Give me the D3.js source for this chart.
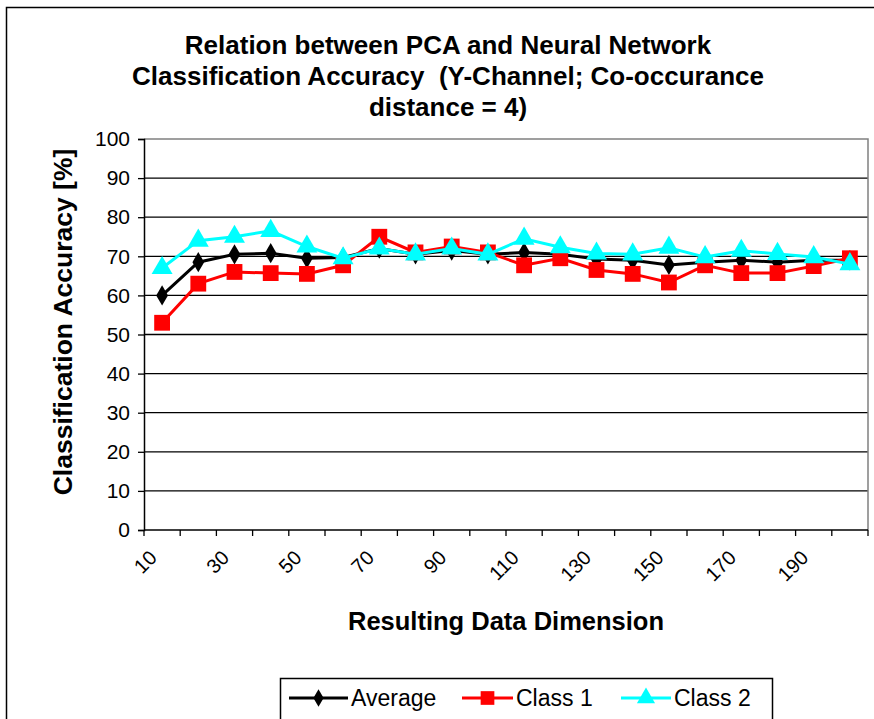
<!DOCTYPE html>
<html>
<head>
<meta charset="utf-8">
<script src="https://cdn.jsdelivr.net/npm/d3@7"></script>
<style>
  html, body { margin: 0; padding: 0; background: #fff; }
  svg { display: block; font-family: "Liberation Sans", Arial, sans-serif; }
  svg text { white-space: pre; }
</style>
</head>
<body>
<svg id="chart" width="874" height="719"></svg>
<script>
const categories = [10, 20, 30, 40, 50, 60, 70, 80, 90, 100, 110, 120, 130, 140, 150, 160, 170, 180, 190, 200];
const averageValues = [60, 68.5, 70.5, 70.8, 69.5, 69.7, 72, 70.5, 71.5, 70.5, 71, 70.5, 69.3, 69, 67.8, 68.5, 69, 68.5, 69, 69];
const class1Values = [53, 63, 66, 65.7, 65.5, 67.7, 75, 71, 72.5, 71, 67.7, 69.5, 66.5, 65.5, 63.3, 67.7, 65.7, 65.7, 67.5, 69.5];
const class2Values = [67, 74, 75, 76.5, 72.5, 69.5, 72, 70.5, 72, 70.5, 74.5, 72.3, 70.7, 70.5, 72.2, 69.8, 71.4, 70.6, 69.8, 68];
const yTicks = [0, 10, 20, 30, 40, 50, 60, 70, 80, 90, 100];
const xLabelCats = [10, 30, 50, 70, 90, 110, 130, 150, 170, 190];
const titleLines = ["Relation between PCA and Neural Network", "Classification Accuracy  (Y-Channel; Co-occurance", "distance = 4)"];
const seriesNames = ["Average", "Class 1", "Class 2"];

const svg = d3.select("#chart");
const pLeft = 144, pRight = 868, pTop = 139, pBottom = 530;

// outer chart border
svg.append("rect").attr("x", 6.5).attr("y", 7.5).attr("width", 900).attr("height", 800)
  .attr("fill", "#fff").attr("stroke", "#000").attr("stroke-width", 1.5);

const x = d3.scaleBand().domain(categories).range([pLeft, pRight]).paddingInner(0).paddingOuter(0);
const y = d3.scaleLinear().domain([0, 100]).range([pBottom, pTop]);
const cx = c => x(c) + x.bandwidth() / 2;

// gridlines
svg.append("g").selectAll("line").data(yTicks.filter(t => t > 0 && t < 100)).join("line")
  .attr("x1", pLeft).attr("x2", pRight).attr("y1", d => y(d)).attr("y2", d => y(d))
  .attr("stroke", "#000").attr("stroke-width", 1.3);

// plot border (gray)
svg.append("path")
  .attr("d", `M${pLeft},${pTop}H${pRight}V${pBottom}`)
  .attr("fill", "none").attr("stroke", "#808080").attr("stroke-width", 1.5);

// y axis
const yAxis = svg.append("g").attr("transform", `translate(${pLeft},0)`)
  .call(d3.axisLeft(y).tickValues(yTicks).tickSize(6).tickPadding(8).tickFormat(d3.format("d")));
yAxis.select(".domain").attr("stroke", "#000").attr("stroke-width", 1.5);
yAxis.selectAll(".tick line").attr("stroke", "#000").attr("stroke-width", 1.3);
yAxis.selectAll("text").attr("font-size", 21).attr("fill", "#000")
  .attr("font-family", "'Liberation Sans', Arial, sans-serif");

// x axis line + tick marks at category boundaries
svg.append("line").attr("x1", pLeft).attr("x2", pRight).attr("y1", pBottom).attr("y2", pBottom)
  .attr("stroke", "#000").attr("stroke-width", 1.5);
svg.append("g").selectAll("line").data(categories.concat(["end"])).join("line")
  .attr("x1", d => d === "end" ? pRight : x(d)).attr("x2", d => d === "end" ? pRight : x(d))
  .attr("y1", pBottom).attr("y2", pBottom + 6)
  .attr("stroke", "#000").attr("stroke-width", 1.3);

// x labels (rotated)
svg.append("g").selectAll("text").data(xLabelCats).join("text")
  .attr("transform", d => `translate(${cx(d) - 9},${pBottom + 24}) rotate(-45)`)
  .attr("text-anchor", "end").attr("font-size", 20).attr("fill", "#000")
  .attr("dy", "0.35em")
  .text(d => d);

// title
svg.append("g").selectAll("text").data(titleLines).join("text")
  .attr("x", 448).attr("y", (d, i) => 54 + i * 31)
  .attr("text-anchor", "middle").attr("font-size", 26).attr("font-weight", "bold")
  .attr("fill", "#000").text(d => d);

// axis titles
svg.append("text").attr("x", 506).attr("y", 630).attr("text-anchor", "middle")
  .attr("font-size", 25.5).attr("font-weight", "bold").text("Resulting Data Dimension");
svg.append("text").attr("transform", `translate(72,322) rotate(-90)`).attr("text-anchor", "middle")
  .attr("font-size", 26.5).attr("font-weight", "bold").text("Classification Accuracy [%]");

// series
const series = [
  { name: seriesNames[0], values: averageValues, color: "#000000", symbol: d3.symbolDiamond, size: 120 },
  { name: seriesNames[1], values: class1Values, color: "#ff0000", symbol: d3.symbolSquare, size: 250 },
  { name: seriesNames[2], values: class2Values, color: "#00ffff", symbol: d3.symbolTriangle, size: 190 }
];
const line = d3.line().x((d, i) => cx(categories[i])).y(d => y(d));

series.forEach(s => {
  const g = svg.append("g");
  g.append("path").attr("d", line(s.values)).attr("fill", "none")
    .attr("stroke", s.color).attr("stroke-width", 3);
  g.selectAll("path.m").data(s.values).join("path").attr("class", "m")
    .attr("transform", (d, i) => `translate(${cx(categories[i])},${y(d)})`)
    .attr("d", d3.symbol().type(s.symbol).size(s.size))
    .attr("fill", s.color);
});

// legend
const legend = svg.append("g");
legend.append("rect").attr("x", 280.5).attr("y", 678.5).attr("width", 492).attr("height", 60)
  .attr("fill", "#fff").attr("stroke", "#000").attr("stroke-width", 1.5);
const legendItems = [
  { s: series[0], x1: 289, x2: 348, tx: 351 },
  { s: series[1], x1: 462, x2: 513, tx: 516 },
  { s: series[2], x1: 621, x2: 671, tx: 674 }
];
const ly = 698;
legendItems.forEach(it => {
  legend.append("line").attr("x1", it.x1).attr("x2", it.x2).attr("y1", ly).attr("y2", ly)
    .attr("stroke", it.s.color).attr("stroke-width", 3);
  legend.append("path").attr("transform", `translate(${(it.x1 + it.x2) / 2},${ly})`)
    .attr("d", d3.symbol().type(it.s.symbol).size(it.s.size * 0.75)).attr("fill", it.s.color);
  legend.append("text").attr("x", it.tx).attr("y", ly).attr("dy", "0.35em")
    .attr("font-size", 23).attr("fill", "#000").text(it.s.name);
});
</script>
</body>
</html>
